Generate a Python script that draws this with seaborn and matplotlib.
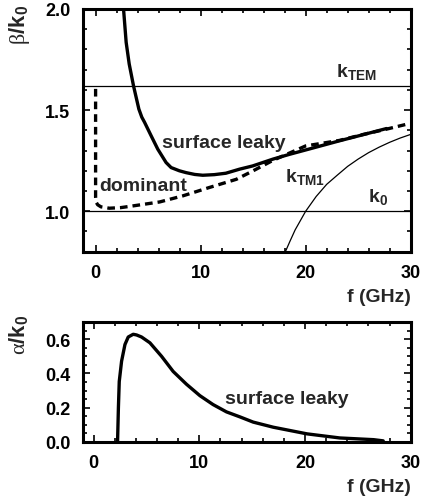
import numpy as np
import matplotlib
matplotlib.use("Agg")
import matplotlib.pyplot as plt
from matplotlib.ticker import MultipleLocator, FixedLocator, FixedFormatter
import seaborn as sns

# ---------------- data ----------------
leaky_beta_f = [2.66, 2.91, 3.2, 3.61, 4.12, 4.4, 4.66, 5.29, 5.92, 6.71, 7.19, 7.98, 8.61,
                9.44, 10.2, 11.3, 12.4, 13.7, 14.95, 16.9, 18.5, 20.5, 23.2, 25.5, 27.7]
leaky_beta_v = [2.0, 1.835, 1.728, 1.62, 1.505, 1.465, 1.44, 1.373, 1.307, 1.241, 1.216,
                1.2, 1.191, 1.182, 1.178, 1.181, 1.188, 1.208, 1.224, 1.258, 1.282, 1.31,
                1.348, 1.379, 1.409]

dominant_f = [0.0, 0.0, 0.0, 0.05, 0.2, 0.5, 1.3, 2.4, 3.5, 6.1, 8.3, 10.8, 13.4,
              15.0, 16.9, 20.0, 23.2, 25.5, 27.7, 29.6]
dominant_v = [1.605, 1.30, 1.07, 1.045, 1.032, 1.022, 1.015, 1.018, 1.026, 1.046, 1.076,
              1.117, 1.158, 1.20, 1.252, 1.323, 1.35, 1.38, 1.406, 1.43]

ktm1_f = [17.9, 18.5, 19, 20, 21, 22, 23, 24, 25, 26, 27, 28, 29, 30]
ktm1_v = [0.78, 0.851, 0.908, 1.0, 1.073, 1.133, 1.178, 1.222, 1.258, 1.29, 1.317,
          1.341, 1.362, 1.38]

k_tem = 1.62
k_0 = 1.0

leaky_alpha_f = [2.27, 2.35, 2.43, 2.65, 2.97, 3.28, 3.75, 4.07, 4.54, 5.33, 6.43, 7.53,
                 8.79, 10.06, 11.3, 12.57, 13.87, 15.1, 17.0, 20.2, 23.3, 26.5, 27.4]
leaky_alpha_v = [0.0, 0.2, 0.353, 0.472, 0.57, 0.614, 0.63, 0.626, 0.614, 0.58, 0.501,
                 0.412, 0.337, 0.27, 0.218, 0.175, 0.145, 0.115, 0.085, 0.046, 0.022,
                 0.012, 0.005]

x_ticks = [0, 10, 20, 30]
beta_ticks = [1.0, 1.5, 2.0]
alpha_ticks = [0.0, 0.2, 0.4, 0.6]

# ---------------- style ----------------
sns.set_style("ticks")
plt.rcParams["font.family"] = ["Liberation Sans", "DejaVu Sans"]
plt.rcParams["font.weight"] = "bold"
plt.rcParams["mathtext.fontset"] = "custom"
plt.rcParams["mathtext.rm"] = "Liberation Sans:bold"
plt.rcParams["mathtext.it"] = "Liberation Sans:bold"
plt.rcParams["mathtext.bf"] = "Liberation Sans:bold"
plt.rcParams["mathtext.sf"] = "Liberation Serif:normal"

fig = plt.figure(figsize=(4.23, 5.02), dpi=100)
ax1 = fig.add_axes([0.1962, 0.4966, 0.7747, 0.4835])
ax2 = fig.add_axes([0.1962, 0.1181, 0.7747, 0.2378])

LW_THICK = 2.4
LW_THIN = 0.9

# top panel
sns.lineplot(x=leaky_beta_f, y=leaky_beta_v, ax=ax1, color="black", lw=LW_THICK,
             sort=False, estimator=None)
sns.lineplot(x=dominant_f, y=dominant_v, ax=ax1, color="black", lw=LW_THICK,
             sort=False, estimator=None, linestyle=(0, (2.3, 1.5)))
sns.lineplot(x=ktm1_f, y=ktm1_v, ax=ax1, color="black", lw=LW_THIN,
             sort=False, estimator=None)
ax1.axhline(k_tem, color="black", lw=LW_THIN)
ax1.axhline(k_0, color="black", lw=LW_THIN)

ax1.set_xlim(-1.2, 30)
ax1.set_ylim(0.8, 2.0)

# bottom panel
sns.lineplot(x=leaky_alpha_f, y=leaky_alpha_v, ax=ax2, color="black", lw=LW_THICK,
             sort=False, estimator=None)
ax2.set_xlim(-1.0, 30)
ax2.set_ylim(0.0, 0.7)

for ax, yt, ymin in ((ax1, beta_ticks, 0.1), (ax2, alpha_ticks, 0.05)):
    ax.xaxis.set_major_locator(FixedLocator(x_ticks))
    ax.xaxis.set_major_formatter(FixedFormatter([str(t) for t in x_ticks]))
    ax.xaxis.set_minor_locator(MultipleLocator(2))
    ax.yaxis.set_major_locator(FixedLocator(yt))
    ax.yaxis.set_major_formatter(FixedFormatter(["%.1f" % t for t in yt]))
    ax.yaxis.set_minor_locator(MultipleLocator(ymin))
    ax.tick_params(which="both", direction="in", top=True, right=True,
                   width=1.2, colors="black", labelsize=13, pad=9)
    ax.tick_params(which="major", length=5)
    ax.tick_params(which="minor", length=3)
    for lab in ax.get_xticklabels() + ax.get_yticklabels():
        lab.set_fontweight("bold")
    for s in ax.spines.values():
        s.set_linewidth(2.2)
        s.set_color("black")
        s.set_visible(True)
    ax.set_xlabel("")
    ax.set_ylabel("")
    ax.annotate("f (GHz)", xy=(1, 0), xycoords="axes fraction",
                xytext=(0, -32), textcoords="offset points",
                ha="right", va="center", fontsize=14, fontweight="bold")

# annotations, top
ax1.text(12.24, 1.342, "surface leaky", ha="center", va="center",
         fontsize=14, fontweight="bold")
ax1.text(4.53, 1.129, "dominant", ha="center", va="center",
         fontsize=14, fontweight="bold")
ax1.text(22.86, 1.667, r"k$_{\mathbf{TEM}}$", ha="left", va="baseline",
         fontsize=14, fontweight="bold")
ax1.text(18.0, 1.15, r"k$_{\mathbf{TM1}}$", ha="left", va="baseline",
         fontsize=14, fontweight="bold")
ax1.text(25.9, 1.051, r"k$_{\mathbf{0}}$", ha="left", va="baseline",
         fontsize=14, fontweight="bold")

# annotation, bottom
ax2.text(18.3, 0.254, "surface leaky", ha="center", va="center",
         fontsize=14, fontweight="bold")

# y labels
fig.text(0.045, 0.990, r"$\mathsf{\beta}$/k$_{\mathbf{0}}$", rotation=90,
         ha="center", va="top", fontsize=16, fontweight="bold")
fig.text(0.045, 0.3725, r"$\mathsf{\alpha}$/k$_{\mathbf{0}}$", rotation=90,
         ha="center", va="top", fontsize=16, fontweight="bold")

fig.savefig("out.png", dpi=100)
